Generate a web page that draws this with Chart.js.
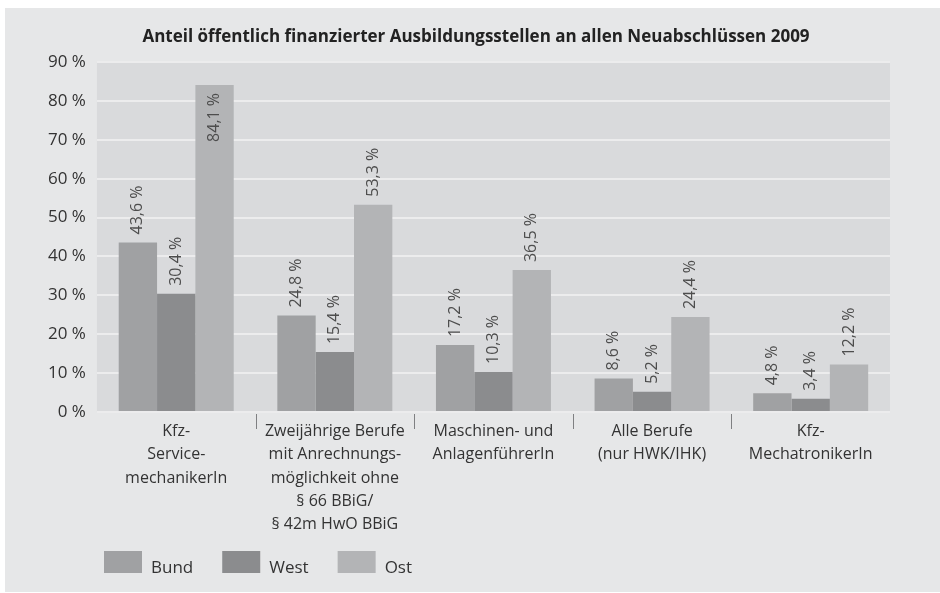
<!DOCTYPE html>
<html lang="de">
<head>
<meta charset="utf-8">
<title>Anteil öffentlich finanzierter Ausbildungsstellen</title>
<script src="https://cdn.jsdelivr.net/npm/chart.js@4/dist/chart.umd.min.js"></script>
<style>
    html, body { margin: 0; padding: 0; background: #ffffff; }
    #wrap {
        position: absolute;
        left: 5px; top: 8px;
        width: 935px; height: 584px;
        background: #e6e7e8;
    }
</style>
</head>
<body>
<div id="wrap"><canvas id="chart" width="935" height="584"></canvas></div>
<script>
const titel = 'Anteil öffentlich finanzierter Ausbildungsstellen an allen Neuabschlüssen 2009';

// Berufe (mehrzeilige Beschriftung)
const berufe = [
    ['Kfz-', 'Service-', 'mechanikerIn'],
    ['Zweijährige Berufe', 'mit Anrechnungs-', 'möglichkeit ohne', '§ 66 BBiG/', '§ 42m HwO BBiG'],
    ['Maschinen- und', 'AnlagenführerIn'],
    ['Alle Berufe', '(nur HWK/IHK)'],
    ['Kfz-', 'MechatronikerIn']
];

// Anteile in Prozent
const bund = [43.6, 24.8, 17.2, 8.6, 4.8];
const west = [30.4, 15.4, 10.3, 5.2, 3.4];
const ost  = [84.1, 53.3, 36.5, 24.4, 12.2];

const yTicks = [0, 10, 20, 30, 40, 50, 60, 70, 80, 90];

const textFont = "'Open Sans', 'Noto Sans', sans-serif";

function fmt(v) {
    return v.toFixed(1).replace('.', ',') + ' %';
}

// Hintergrund der Zeichenfläche
const plotBg = {
    id: 'plotBg',
    beforeDraw(chart) {
        const a = chart.chartArea;
        const ctx = chart.ctx;
        ctx.save();
        ctx.fillStyle = '#d9dadc';
        ctx.fillRect(a.left, a.top, a.right - a.left, a.bottom - a.top);
        ctx.restore();
    }
};

// Überschrift
const titleText = {
    id: 'titleText',
    afterDraw(chart) {
        const ctx = chart.ctx;
        ctx.save();
        ctx.fillStyle = '#222222';
        ctx.font = "bold 17px " + textFont;
        ctx.textAlign = 'center';
        ctx.textBaseline = 'middle';
        ctx.fillText(titel, 471, 29);
        ctx.restore();
    }
};

// Trennstriche zwischen den Berufsgruppen unter der x-Achse
const separators = {
    id: 'separators',
    afterDraw(chart) {
        const x = chart.scales.x;
        const ctx = chart.ctx;
        const bottom = chart.chartArea.bottom;
        ctx.save();
        ctx.strokeStyle = '#7f8082';
        ctx.lineWidth = 1;
        for (let i = 1; i < berufe.length; i++) {
            const px = Math.round((x.getPixelForValue(i - 1) + x.getPixelForValue(i)) / 2) + 0.5;
            ctx.beginPath();
            ctx.moveTo(px, bottom + 2);
            ctx.lineTo(px, bottom + 17);
            ctx.stroke();
        }
        ctx.restore();
    }
};

// Werte senkrecht über den Balken (bei zu wenig Platz im Balken)
const valueLabels = {
    id: 'valueLabels',
    afterDatasetsDraw(chart) {
        const ctx = chart.ctx;
        const top = chart.chartArea.top;
        ctx.save();
        ctx.fillStyle = '#4d4d4d';
        ctx.font = "16px " + textFont;
        ctx.textBaseline = 'middle';
        chart.data.datasets.forEach((ds, di) => {
            chart.getDatasetMeta(di).data.forEach((bar, i) => {
                const txt = fmt(ds.data[i]);
                const w = ctx.measureText(txt).width;
                ctx.save();
                if (bar.y - 8 - w < top) {
                    ctx.translate(bar.x, bar.y + 8);
                    ctx.rotate(-Math.PI / 2);
                    ctx.textAlign = 'right';
                } else {
                    ctx.translate(bar.x, bar.y - 8);
                    ctx.rotate(-Math.PI / 2);
                    ctx.textAlign = 'left';
                }
                ctx.fillText(txt, 0, 0);
                ctx.restore();
            });
        });
        ctx.restore();
    }
};

// Legende unten links
const legendBottom = {
    id: 'legendBottom',
    afterDraw(chart) {
        const ctx = chart.ctx;
        ctx.save();
        ctx.font = "17px " + textFont;
        ctx.textBaseline = 'alphabetic';
        ctx.textAlign = 'left';
        let x = 99;
        chart.data.datasets.forEach(ds => {
            ctx.fillStyle = ds.backgroundColor;
            ctx.fillRect(x, 543, 38, 22);
            ctx.fillStyle = '#333333';
            ctx.fillText(ds.label, x + 47, 565);
            x += 47 + ctx.measureText(ds.label).width + 29;
        });
        ctx.restore();
    }
};

new Chart(document.getElementById('chart'), {
    type: 'bar',
    data: {
        labels: berufe,
        datasets: [
            { label: 'Bund', data: bund, backgroundColor: '#a0a1a3' },
            { label: 'West', data: west, backgroundColor: '#8b8c8e' },
            { label: 'Ost',  data: ost,  backgroundColor: '#b3b4b6' }
        ]
    },
    options: {
        responsive: false,
        animation: false,
        devicePixelRatio: 1,
        categoryPercentage: 0.725,
        barPercentage: 1.0,
        layout: { padding: { top: 54, left: 32, right: 50, bottom: 56 } },
        plugins: {
            title: { display: false },
            legend: { display: false },
            tooltip: { enabled: false }
        },
        scales: {
            x: {
                grid: { display: false },
                border: { display: false },
                ticks: {
                    color: '#333333',
                    padding: 0,
                    maxRotation: 0,
                    autoSkip: false,
                    font: { family: textFont, size: 16, lineHeight: 1.45 }
                }
            },
            y: {
                min: 0,
                max: 90,
                afterBuildTicks(scale) { scale.ticks = yTicks.map(v => ({ value: v })); },
                grid: { color: '#ececed', lineWidth: 2, drawTicks: false },
                border: { display: false },
                ticks: {
                    color: '#333333',
                    padding: 11,
                    font: { family: textFont, size: 17 },
                    callback: v => v + ' %'
                }
            }
        }
    },
    plugins: [plotBg, titleText, separators, valueLabels, legendBottom]
});
</script>
</body>
</html>
